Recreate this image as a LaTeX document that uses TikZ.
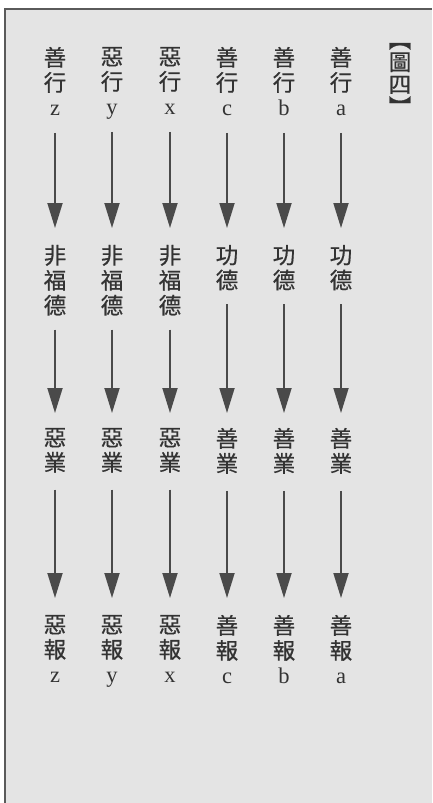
\documentclass[tikz,border=0pt]{standalone}
\usepackage{fontspec}
\setmainfont{Liberation Serif}
\newfontfamily\cjk[FakeBold=0.6]{Noto Sans CJK TC}
\usetikzlibrary{arrows.meta}
\definecolor{ink}{HTML}{333333}
\definecolor{arrowink}{HTML}{4A4A4A}
\definecolor{paper}{HTML}{E4E4E4}
\definecolor{framec}{HTML}{5A5A5A}
\newcommand\lt[1]{\raisebox{0pt}[\height][0pt]{\rmfamily #1}}
\begin{document}
\begin{tikzpicture}[x=1pt,y=-1pt,
  txt/.style={inner sep=0pt, outer sep=0pt, align=center, anchor=north, text=ink,
    font=\cjk\fontsize{22.5}{25}\selectfont},
  ttl/.style={inner sep=0pt, outer sep=0pt, align=center, anchor=north, text=ink,
    font=\cjk\fontsize{22.5}{22.5}\selectfont},
  arr/.style={draw=arrowink, line width=1.8pt, -{Triangle[width=15pt,length=25pt]}}]
\useasboundingbox (0,0) rectangle (432,803);
\fill[paper] (5,9) rectangle (432,803);
\draw[framec, line width=1.3pt] (5,803) -- (5,9) -- (432,9);

% title
\node[ttl] (title) at (400,43) {︻\\圖\\四\\︼};

% columns: z y x c b a
\foreach \n/\xx/\act/\mid/\kar/\res/\ltr in {
  z/55/善/非\\福\\德/惡/惡/z,
  y/112/惡/非\\福\\德/惡/惡/y,
  x/170/惡/非\\福\\德/惡/惡/x,
  c/227/善/功\\德/善/善/c,
  b/284/善/功\\德/善/善/b,
  a/341/善/功\\德/善/善/a}{
  \node[txt] (t\n) at (\xx,47) {\act\\行\\\lt{\ltr}};
  \node[txt] (m\n) at (\xx,245) {\mid};
  \node[txt] (k\n) at (\xx,428) {\kar\\業};
  \node[txt] (r\n) at (\xx,615) {\res\\報\\\lt{\ltr}};
  \draw[arr, shorten <=17pt, shorten >=17pt] (t\n) -- (m\n);
  \draw[arr, shorten <=14pt, shorten >=15pt] (m\n) -- (k\n);
  \draw[arr, shorten <=17pt, shorten >=17pt] (k\n) -- (r\n);
}
\end{tikzpicture}
\end{document}
